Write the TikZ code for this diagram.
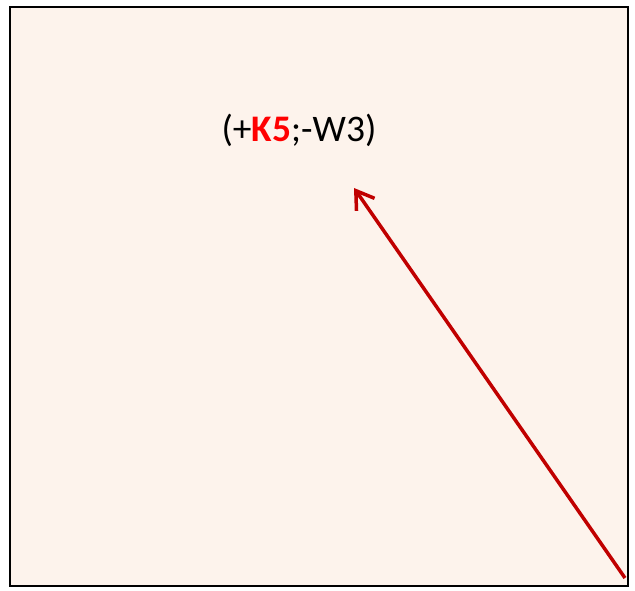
\documentclass[tikz,border=0pt]{standalone}
\usepackage{fontspec}
\setmainfont{Carlito}
\usetikzlibrary{arrows.meta}
\definecolor{peach}{HTML}{FDF3EC}
\definecolor{darkred}{HTML}{C00000}
\definecolor{brightred}{HTML}{FF0000}
\tikzset{
  frame/.style={draw=black, line width=2pt, fill=peach},
  label/.style={font=\fontsize{37.5}{42}\selectfont, inner sep=0pt, anchor=center},
  connector/.style={draw=darkred, line width=3.5pt, -{Straight Barb[length=17pt, width=22pt, line width=3.5pt]}}
}
\begin{document}
\begin{tikzpicture}[x=1pt, y=-1pt]
\useasboundingbox (0,0) rectangle (635,591);
\path[frame] (10,7) rectangle (628,586);
\node[label] (t) at (299,130) {(+\textcolor{brightred}{\textbf{K5}};-W3)};
\coordinate (start) at (625,578);
\coordinate (tip) at (354,188);
\draw[connector] (start) -- (tip);
\end{tikzpicture}
\end{document}
